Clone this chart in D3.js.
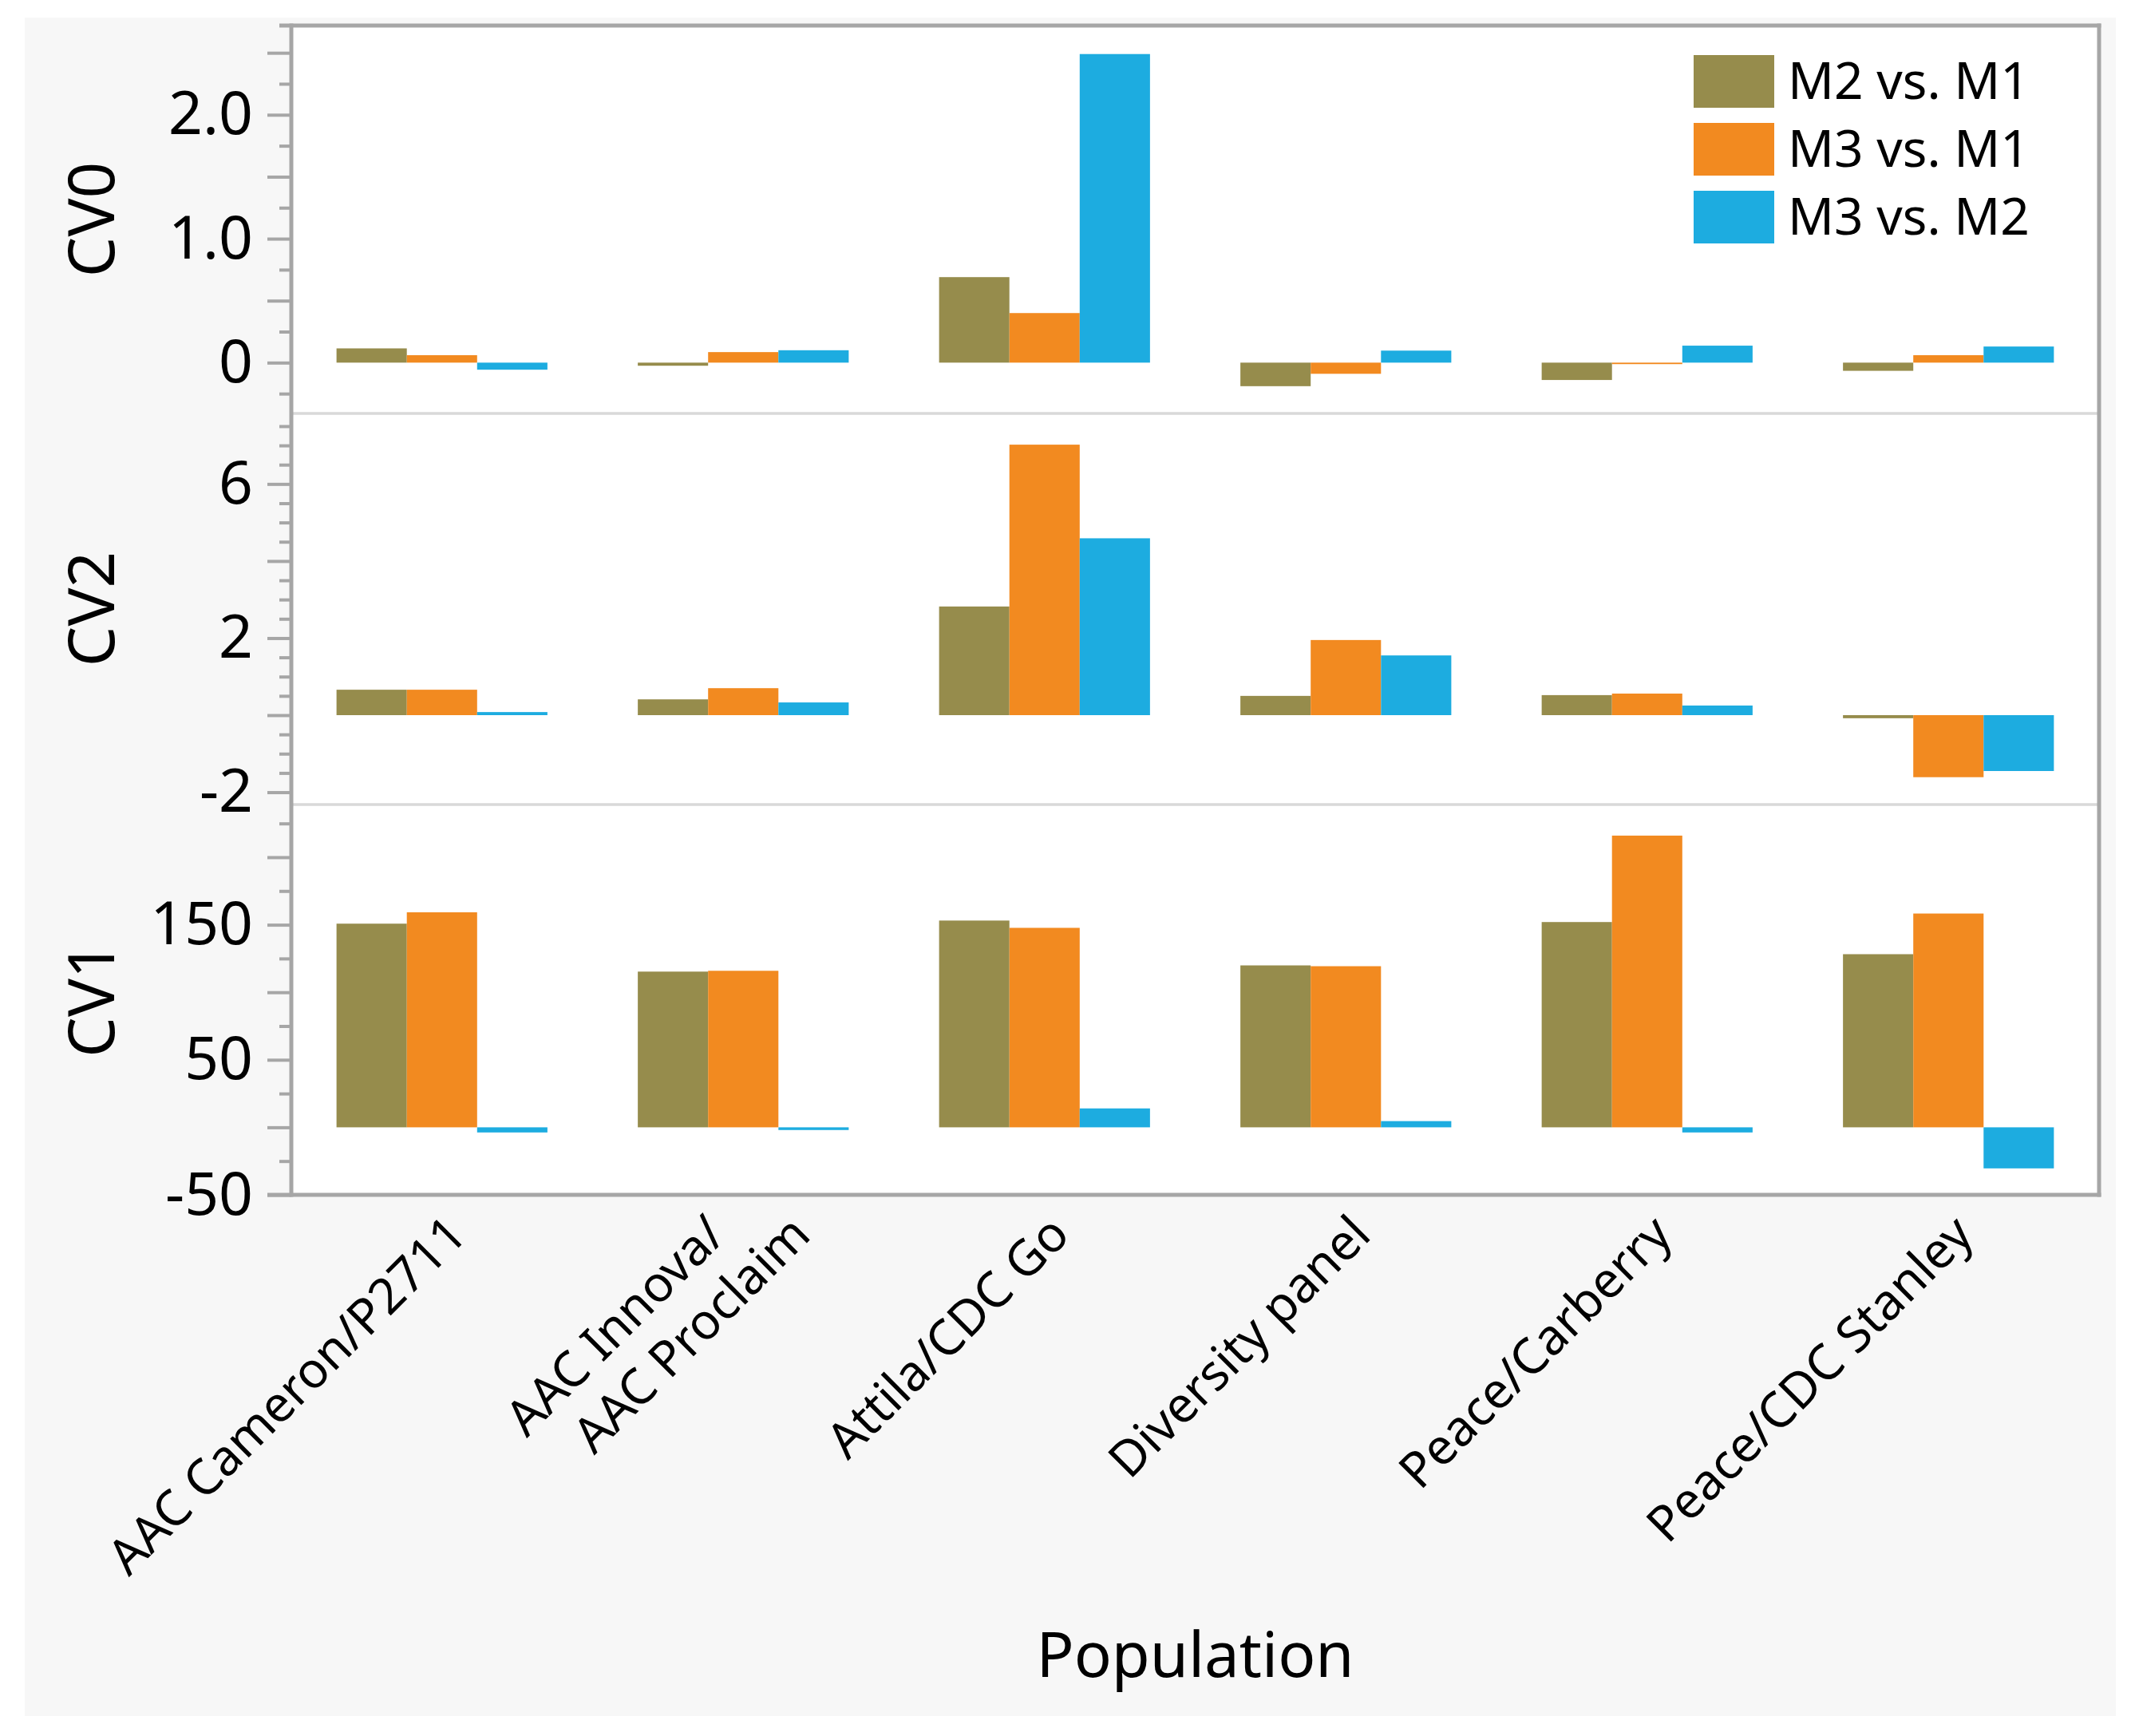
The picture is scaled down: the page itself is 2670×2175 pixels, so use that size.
<!DOCTYPE html>
<html>
<head>
<meta charset="utf-8">
<script src="https://cdn.jsdelivr.net/npm/d3@7/dist/d3.min.js"></script>
<style>
body { margin: 0; background: #ffffff; }
text { font-family: "Noto Sans", "Open Sans", sans-serif; fill: #000000; }
</style>
</head>
<body>
<div id="chart"></div>
<script>
var populations = ["AAC Cameron/P2711", "AAC Innova/\nAAC Proclaim", "Attila/CDC Go", "Diversity panel", "Peace/Carberry", "Peace/CDC Stanley"];
var comparisons = ["M2 vs. M1", "M3 vs. M1", "M3 vs. M2"];
var colors = ["#968c4c", "#f28a20", "#1dace0"];

// CV0
var cv0M2vsM1 = [0.115, -0.025, 0.69, -0.19, -0.14, -0.066];
var cv0M3vsM1 = [0.06, 0.085, 0.40, -0.09, -0.012, 0.06];
var cv0M3vsM2 = [-0.057, 0.10, 2.49, 0.097, 0.137, 0.13];
var cv0Major = [0, 0.5, 1, 1.5, 2, 2.5];
var cv0Minor = [-0.25, 0.25, 0.75, 1.25, 1.75, 2.25];
var cv0Labels = [0, 1, 2];

// CV2
var cv2M2vsM1 = [0.66, 0.41, 2.82, 0.50, 0.52, -0.08];
var cv2M3vsM1 = [0.66, 0.70, 7.02, 1.95, 0.56, -1.61];
var cv2M3vsM2 = [0.08, 0.33, 4.59, 1.55, 0.25, -1.45];
var cv2Major = [-2, 0, 2, 4, 6];
var cv2Minor = [-1.5, -1, -0.5, 0.5, 1, 1.5, 2.5, 3, 3.5, 4.5, 5, 5.5, 6.5, 7, 7.5];
var cv2Labels = [-2, 2, 6];

// CV1
var cv1M2vsM1 = [150.8, 115.3, 153.1, 119.9, 152.0, 128.2];
var cv1M3vsM1 = [159.2, 115.9, 147.7, 119.3, 216.0, 158.3];
var cv1M3vsM2 = [-3.8, -2, 14.0, 4.6, -3.8, -30.4];
var cv1Major = [-50, 0, 50, 100, 150, 200];
var cv1Minor = [-25, 25, 75, 125, 175, 225];
var cv1Labels = [-50, 50, 150];

var width = 2670, height = 2175;
var plotLeft = 365, plotRight = 2630, plotTop = 32, plotBottom = 1497;
var frameColor = "#a6a6a6";

function plainInt(d){
    return String(Math.round(d));
}

var panels = [
    {title: "CV0", series: [cv0M2vsM1, cv0M3vsM1, cv0M3vsM2], domain: [-0.41, 2.72], major: cv0Major, minor: cv0Minor, labels: cv0Labels, fmt: function(d){ return d === 0 ? "0" : d.toFixed(1); }, top: 32, bottom: 518},
    {title: "CV2", series: [cv2M2vsM1, cv2M3vsM1, cv2M3vsM2], domain: [-2.32, 7.83], major: cv2Major, minor: cv2Minor, labels: cv2Labels, fmt: plainInt, top: 518, bottom: 1008},
    {title: "CV1", series: [cv1M2vsM1, cv1M3vsM1, cv1M3vsM2], domain: [-50, 239], major: cv1Major, minor: cv1Minor, labels: cv1Labels, fmt: plainInt, top: 1008, bottom: 1497}
];

var svg = d3.select("#chart")
    .append("svg")
    .attr("width", width)
    .attr("height", height);

svg.append("rect")
    .attr("x", 31)
    .attr("y", 22)
    .attr("width", 2620)
    .attr("height", 2128)
    .attr("fill", "#f7f7f7");

svg.append("rect")
    .attr("x", plotLeft)
    .attr("y", plotTop)
    .attr("width", plotRight - plotLeft)
    .attr("height", plotBottom - plotTop)
    .attr("fill", "#ffffff");

var x0 = d3.scaleBand()
    .domain(populations)
    .range([plotLeft, plotRight])
    .paddingInner(0.3)
    .paddingOuter(0.15);

var x1 = d3.scaleBand()
    .domain(comparisons)
    .range([0, x0.bandwidth()]);

panels.forEach(function(p, pi){
    var y = d3.scaleLinear()
        .domain(p.domain)
        .range([p.bottom, p.top]);

    var g = svg.append("g").attr("class", "panel");

    var rows = [];
    populations.forEach(function(pop, i){
        comparisons.forEach(function(c, j){
            rows.push({pop: pop, comp: c, idx: j, value: p.series[j][i]});
        });
    });

    g.selectAll("rect.bar")
        .data(rows)
        .enter()
        .append("rect")
        .attr("class", "bar")
        .attr("x", function(d){ return x0(d.pop) + x1(d.comp); })
        .attr("width", x1.bandwidth())
        .attr("y", function(d){ return y(Math.max(0, d.value)); })
        .attr("height", function(d){ return Math.max(1, Math.abs(y(d.value) - y(0))); })
        .attr("fill", function(d){ return colors[d.idx]; });

    if (pi > 0){
        svg.append("line")
            .attr("x1", plotLeft)
            .attr("x2", plotRight)
            .attr("y1", p.top)
            .attr("y2", p.top)
            .attr("stroke", "#d9d9d9")
            .attr("stroke-width", 3.5);
    }

    var minorAxis = svg.append("g")
        .attr("transform", "translate(" + plotLeft + ",0)")
        .call(d3.axisLeft(y).tickValues(p.minor).tickSize(15).tickSizeOuter(0).tickFormat(""));
    minorAxis.select(".domain").remove();
    minorAxis.selectAll("line").attr("stroke", frameColor).attr("stroke-width", 4);

    var majorAxis = svg.append("g")
        .attr("transform", "translate(" + plotLeft + ",0)")
        .call(d3.axisLeft(y).tickValues(p.major).tickSize(30).tickSizeOuter(0).tickPadding(18)
            .tickFormat(function(d){ return p.labels.indexOf(d) >= 0 ? p.fmt(d) : ""; }));
    majorAxis.select(".domain").remove();
    majorAxis.selectAll("line").attr("stroke", frameColor).attr("stroke-width", 4);
    majorAxis.selectAll("text")
        .attr("font-size", 75)
        .attr("font-family", "'Noto Sans', 'Open Sans', sans-serif")
        .attr("fill", "#000000");

    svg.append("text")
        .attr("transform", "translate(143," + ((p.top + p.bottom) / 2) + ") rotate(-90)")
        .attr("text-anchor", "middle")
        .attr("font-size", 80)
        .text(p.title);
});

// frame
svg.append("line").attr("x1", 350).attr("x2", plotRight + 2.5).attr("y1", plotTop).attr("y2", plotTop)
    .attr("stroke", frameColor).attr("stroke-width", 5);
svg.append("line").attr("x1", 335).attr("x2", plotRight + 2.5).attr("y1", plotBottom).attr("y2", plotBottom)
    .attr("stroke", frameColor).attr("stroke-width", 5);
svg.append("line").attr("x1", plotLeft).attr("x2", plotLeft).attr("y1", plotTop - 2.5).attr("y2", plotBottom + 2.5)
    .attr("stroke", frameColor).attr("stroke-width", 5);
svg.append("line").attr("x1", plotRight).attr("x2", plotRight).attr("y1", plotTop - 2.5).attr("y2", plotBottom + 2.5)
    .attr("stroke", frameColor).attr("stroke-width", 5);

// x labels
populations.forEach(function(pop){
    var lines = pop.split("\n");
    var cx = x0(pop) + x0.bandwidth() / 2;
    lines.forEach(function(line, i){
        var shift = (i - (lines.length - 1) / 2) * 106;
        svg.append("text")
            .attr("transform", "translate(" + (cx + 34 + shift) + ",1550) rotate(-45)")
            .attr("text-anchor", "end")
            .attr("font-size", 62)
            .text(line);
    });
});

svg.append("text")
    .attr("x", (plotLeft + plotRight) / 2)
    .attr("y", 2101)
    .attr("text-anchor", "middle")
    .attr("font-size", 78)
    .text("Population");

// legend
var legend = svg.append("g")
    .attr("transform", "translate(2122,69)");

legend.selectAll("rect")
    .data(comparisons)
    .enter()
    .append("rect")
    .attr("x", 0)
    .attr("y", function(d, i){ return i * 85; })
    .attr("width", 101)
    .attr("height", 66)
    .attr("fill", function(d, i){ return colors[i]; });

legend.selectAll("text")
    .data(comparisons)
    .enter()
    .append("text")
    .attr("x", 118)
    .attr("y", function(d, i){ return i * 85 + 33; })
    .attr("dy", "0.35em")
    .attr("font-size", 64)
    .text(function(d){ return d; });
</script>
</body>
</html>
